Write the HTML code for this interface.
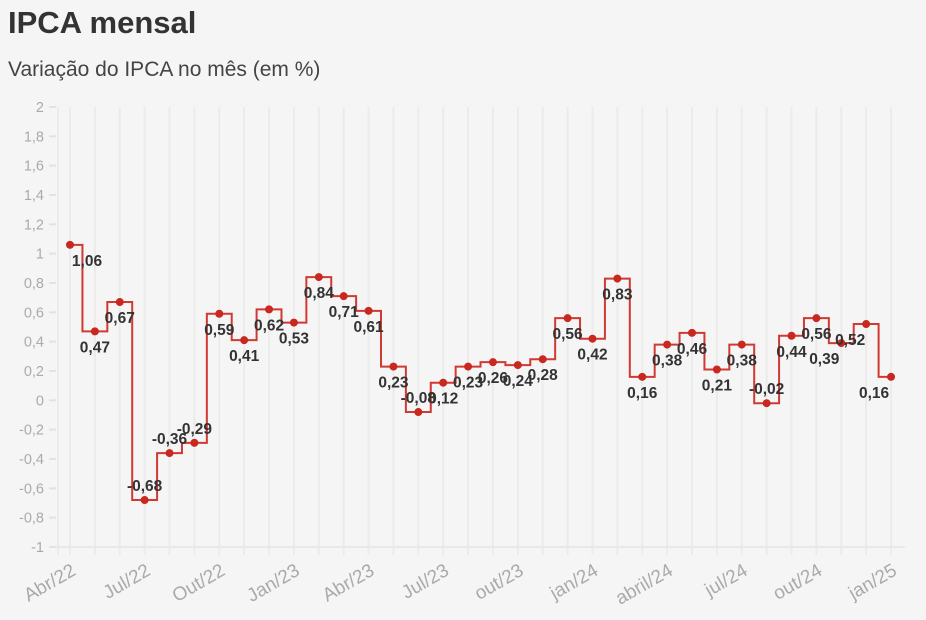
<!DOCTYPE html>
<html><head><meta charset="utf-8"><style>
body{margin:0;background:#f5f5f5;width:926px;height:615px;overflow:hidden;font-family:"Liberation Sans",sans-serif}
</style></head><body>
<svg width="926" height="615" xmlns="http://www.w3.org/2000/svg" font-family="Liberation Sans, sans-serif">
<rect width="926" height="615" fill="#f5f5f5"/>
<text x="8" y="33" font-size="31" font-weight="bold" fill="#333">IPCA mensal</text>
<text x="8" y="76" font-size="21" fill="#444">Variação do IPCA no mês (em %)</text>
<g id="grid"></g>
<g id="ax"></g>
<g id="ser"></g>
<g id="lab"></g>
<script>
var v=[1.06,0.47,0.67,-0.68,-0.36,-0.29,0.59,0.41,0.62,0.53,0.84,0.71,0.61,0.23,-0.08,0.12,0.23,0.26,0.24,0.28,0.56,0.42,0.83,0.16,0.38,0.46,0.21,0.38,-0.02,0.44,0.56,0.39,0.52,0.16];
var ns="http://www.w3.org/2000/svg";
function X(i){return 70+i*24.88}function Y(val){return 400.3-val*146.67}
function el(p,t,a,txt){var e=document.createElementNS(ns,t);for(var k in a)e.setAttribute(k,a[k]);if(txt!=null)e.textContent=txt;document.getElementById(p).appendChild(e);return e}
el("grid","line",{x1:58,x2:58,y1:107,y2:555,stroke:"#ebebeb","stroke-width":2});
for(var i=0;i<34;i++)el("grid","line",{x1:X(i),x2:X(i),y1:107,y2:555,stroke:"#ebebeb","stroke-width":2});
el("grid","line",{x1:49,x2:905,y1:547,y2:547,stroke:"#e8e8e8","stroke-width":2});
for(var t=0;t<=15;t++){var val=2-t*0.2;var y=Y(val);
el("grid","line",{x1:49,x2:56,y1:y,y2:y,stroke:"#e2e2e2","stroke-width":2});
el("ax","text",{x:44,y:y+5,"text-anchor":"end","font-size":14.5,fill:"#aaa"},(Math.round(val*10)/10).toString().replace(".",","));}
var xl=["Abr/22","Jul/22","Out/22","Jan/23","Abr/23","Jul/23","out/23","jan/24","abril/24","jul/24","out/24","jan/25"];
for(var j=0;j<12;j++){var x=X(j*3);el("ax","text",{x:x+7,y:574,"text-anchor":"end","font-size":19,fill:"#aaa",transform:"rotate(-30 "+(x+7)+" 574)"},xl[j]);}
var h=12.44,d="M"+X(0)+","+Y(v[0]);
for(var i=0;i<33;i++){var xm=X(i)+h;d+=" H"+xm+" V"+Y(v[i+1]);}
d+=" H"+X(33);
el("ser","path",{d:d,fill:"none",stroke:"#d03a32","stroke-width":2});
for(var i=0;i<34;i++)el("ser","circle",{cx:X(i),cy:Y(v[i]),r:4,fill:"#c8281f"});
var off={0:17,31:-17,32:-16,33:-17};
for(var i=0;i<34;i++){var x=X(i)+(off[i]||0),y=Y(v[i]);var ty=v[i]<0?y-9:y+21;
var s=v[i].toFixed(2).replace(".",",");if(i==14)s="-0,08";
el("lab","text",{x:x,y:ty,"text-anchor":"middle","font-size":15.5,"font-weight":"bold",fill:"#333"},s);}
</script>
</svg>
</body></html>
